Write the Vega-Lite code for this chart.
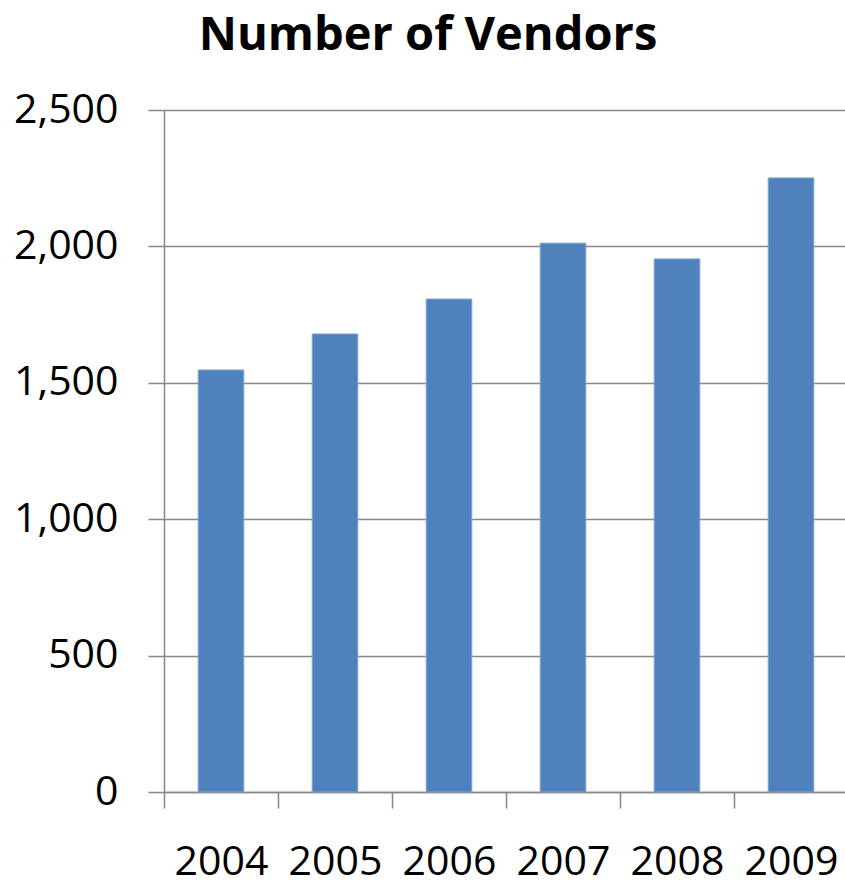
{
  "$schema": "https://vega.github.io/schema/vega-lite/v6.json",
  "width": 684,
  "height": 682,
  "autosize": "none",
  "padding": {"left": 164, "top": 110, "right": 0, "bottom": 95},
  "background": "white",
  "title": {
    "text": "Number of Vendors",
    "font": "Open Sans",
    "fontSize": 47,
    "fontWeight": "bold",
    "color": "#000000",
    "anchor": "middle",
    "frame": "group",
    "dx": -78,
    "offset": 29
  },
  "data": {
    "values": [
      {"year": "2004", "vendors": 1547},
      {"year": "2005", "vendors": 1679},
      {"year": "2006", "vendors": 1807},
      {"year": "2007", "vendors": 2012},
      {"year": "2008", "vendors": 1954},
      {"year": "2009", "vendors": 2251}
    ]
  },
  "config": {
    "view": {"stroke": null},
    "axis": {
      "labelFont": "Open Sans",
      "labelColor": "#000000",
      "domainColor": "#878787",
      "tickColor": "#878787",
      "gridColor": "#878787",
      "domainWidth": 1.5,
      "tickWidth": 1.5,
      "gridWidth": 1.5
    }
  },
  "mark": {"type": "bar", "color": "#4F81BD", "stroke": "#7FA3D0", "strokeWidth": 1, "width": {"band": 0.4}},
  "encoding": {
    "x": {
      "field": "year",
      "type": "nominal",
      "scale": {"paddingInner": 0, "paddingOuter": 0},
      "axis": {
        "title": null,
        "labelAngle": 0,
        "labelFontSize": 41,
        "tickBand": "extent",
        "tickSize": 16,
        "labelPadding": 34,
        "grid": false
      }
    },
    "y": {
      "field": "vendors",
      "type": "quantitative",
      "scale": {"domain": [0, 2500], "nice": false},
      "axis": {
        "title": null,
        "values": [0, 500, 1000, 1500, 2000, 2500],
        "format": ",.0f",
        "labelFontSize": 41,
        "tickSize": 16,
        "labelPadding": 30,
        "grid": true
      }
    }
  }
}
